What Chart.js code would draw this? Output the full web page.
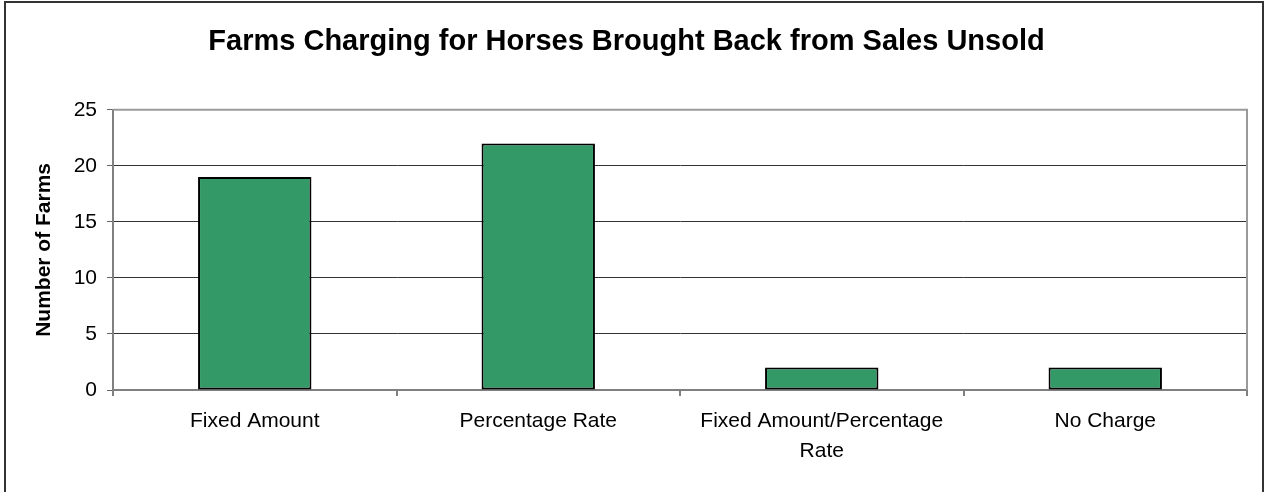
<!DOCTYPE html>
<html>
<head>
<meta charset="utf-8">
<script src="https://cdn.jsdelivr.net/npm/chart.js@4.4.1/dist/chart.umd.min.js"></script>
<style>
    html, body { margin: 0; padding: 0; background: #fff; }
    #wrap { width: 1265px; height: 492px; }
</style>
</head>
<body>
<div id="wrap"><canvas id="farmChart" width="1265" height="492"></canvas></div>
<script>
const categories = ["Fixed Amount", "Percentage Rate", ["Fixed Amount/Percentage", "Rate"], "No Charge"];
const farmCounts = [19, 22, 2, 2];
const yTicks = [0, 5, 10, 15, 20, 25];

const fontFamily = "'Liberation Sans', Arial, sans-serif";

// outer frame + gray plot border like the original sheet
const framePlugin = {
    id: "frame",
    afterDraw(chart) {
        const { ctx, chartArea } = chart;
        ctx.save();
        ctx.strokeStyle = "#9a9a9a";
        ctx.lineWidth = 2;
        ctx.beginPath();
        ctx.moveTo(chartArea.left, chartArea.top);
        ctx.lineTo(chartArea.right, chartArea.top);
        ctx.lineTo(chartArea.right, chartArea.bottom);
        ctx.stroke();
        ctx.strokeStyle = "#333";
        ctx.strokeRect(5, 2, 1258, 500);
        ctx.restore();
    }
};

const ctx = document.getElementById("farmChart").getContext("2d");
new Chart(ctx, {
    type: "bar",
    data: {
        labels: categories,
        datasets: [{
            data: farmCounts,
            backgroundColor: "#339966",
            borderColor: "#000",
            borderWidth: 2,
            borderSkipped: false,
            categoryPercentage: 1,
            barPercentage: 0.4
        }]
    },
    options: {
        responsive: false,
        animation: false,
        layout: { padding: { left: 6, right: 18, top: 0, bottom: 0 } },
        plugins: {
            legend: { display: false },
            tooltip: { enabled: false },
            title: {
                display: true,
                text: "Farms Charging for Horses Brought Back from Sales Unsold",
                color: "#000",
                font: { family: fontFamily, size: 29, weight: "bold", lineHeight: 1.2 },
                padding: { top: 25, bottom: 50 }
            }
        },
        scales: {
            x: {
                grid: { offset: true, drawOnChartArea: false, drawTicks: true, tickLength: 6, tickColor: "#808080", lineWidth: 2 },
                border: { color: "#808080", width: 2 },
                ticks: {
                    color: "#000",
                    padding: 10,
                    maxRotation: 0,
                    font: { family: fontFamily, size: 21, lineHeight: 1.45 }
                },
                afterFit(scale) { scale.height = 102; }
            },
            y: {
                min: 0,
                max: 25,
                afterBuildTicks(scale) { scale.ticks = yTicks.map(v => ({ value: v })); },
                grid: { color: "#333", lineWidth: 1, tickLength: 6, tickColor: "#666" },
                border: { color: "#808080", width: 2 },
                ticks: {
                    color: "#000",
                    padding: 10,
                    font: { family: fontFamily, size: 21 }
                },
                title: {
                    display: true,
                    text: "Number of Farms",
                    color: "#000",
                    font: { family: fontFamily, size: 21, weight: "bold" },
                    padding: { top: 26, bottom: 0 }
                },
                afterFit(scale) { scale.width = 107; }
            }
        }
    },
    plugins: [framePlugin]
});
</script>
</body>
</html>
